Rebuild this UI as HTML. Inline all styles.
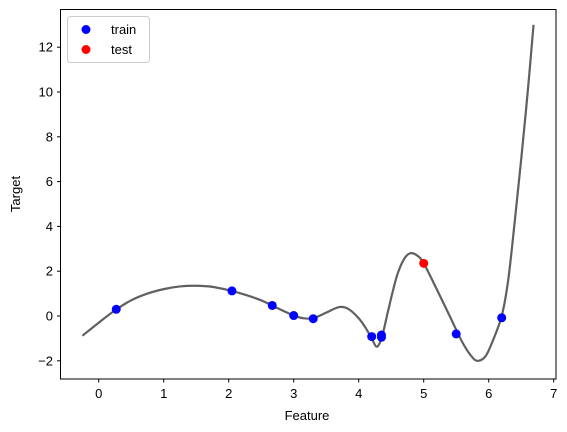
<!DOCTYPE html>
<html><head><meta charset="utf-8"><style>
body{margin:0;background:#fff}
svg{display:block;font-family:"Liberation Sans","DejaVu Sans",sans-serif}
</style></head><body>
<svg id="chart" width="567" height="432">
<rect x="0" y="0" width="567" height="432" fill="#fff"/>
<g id="axes"></g>
<g id="curve"></g>
<g id="points"></g>
<rect x="60.5" y="9.5" width="495.5" height="369.5" fill="none" stroke="#000" stroke-width="1"/>
<text x="307" y="420" font-size="13" text-anchor="middle">Feature</text>
<text x="0" y="0" font-size="13" text-anchor="middle" transform="translate(20,194) rotate(-90)">Target</text>
<g>
<rect x="67.5" y="16.5" width="82" height="46" rx="3" fill="#fff" stroke="#ccc"/>
<circle cx="86" cy="29.5" r="4.5" fill="#0000ff"/>
<text x="111" y="34" font-size="13">train</text>
<circle cx="86" cy="49.5" r="4.5" fill="#ff0000"/>
<text x="111" y="54" font-size="13">test</text>
</g>
</svg>
<script>
const xTicks=[0,1,2,3,4,5,6,7];
const yTicks=[-2,0,2,4,6,8,10,12];
const curveX=[-0.25,0,0.25,0.5,0.75,1,1.25,1.5,1.75,2,2.25,2.5,2.75,3,3.15,3.3,3.5,3.7,3.85,4,4.1,4.2,4.28,4.36,4.45,4.52,4.6,4.7,4.79,4.9,5.0,5.2,5.4,5.6,5.75,5.84,5.95,6.05,6.2,6.3,6.4,6.5,6.6,6.69];
const curveY=[-0.88,-0.3,0.25,0.7,1.0,1.2,1.32,1.35,1.3,1.15,0.95,0.7,0.35,0.02,-0.1,-0.1,0.15,0.4,0.3,-0.1,-0.5,-1.0,-1.37,-0.9,0.2,1.05,1.9,2.55,2.8,2.7,2.35,1.2,0.0,-1.2,-1.85,-2.0,-1.8,-1.2,0.0,1.6,4.2,7.0,10.0,13.0];
const trainX=[0.27,2.05,2.67,3.0,3.3,4.2,4.35,4.35,5.5,6.2];
const trainY=[0.3,1.12,0.47,0.02,-0.12,-0.92,-0.85,-0.95,-0.8,-0.08];
const testX=[5.0];
const testY=[2.35];
const NS='http://www.w3.org/2000/svg';
function sx(v){return 98.7+v*65;}
function sy(v){return 316-v*22.4;}
const axes=document.getElementById('axes');
xTicks.forEach(t=>{
  const l=document.createElementNS(NS,'line');
  l.setAttribute('x1',sx(t));l.setAttribute('x2',sx(t));l.setAttribute('y1',379);l.setAttribute('y2',382.5);l.setAttribute('stroke','#000');
  
  
  axes.appendChild(l);
  const tx=document.createElementNS(NS,'text');
  tx.setAttribute('x',sx(t));tx.setAttribute('y',398);tx.setAttribute('font-size','13');tx.setAttribute('text-anchor','middle');
  tx.textContent=t;
  
  
  axes.appendChild(tx);
});
yTicks.forEach(t=>{
  const l=document.createElementNS(NS,'line');
  l.setAttribute('x1',57);l.setAttribute('x2',60.5);l.setAttribute('y1',sy(t));l.setAttribute('y2',sy(t));l.setAttribute('stroke','#000');
  
  
  axes.appendChild(l);
  const tx=document.createElementNS(NS,'text');
  tx.setAttribute('x',53);tx.setAttribute('y',sy(t)+4.5);tx.setAttribute('font-size','13');tx.setAttribute('text-anchor','end');
  tx.textContent=t<0?'\u2212'+(-t):t;
  
  
  axes.appendChild(tx);
});
const P=curveX.map((x,i)=>[sx(x),sy(curveY[i])]);
let d='M'+P[0][0]+','+P[0][1];
for(let i=0;i<P.length-1;i++){
  const p0=P[Math.max(0,i-1)],p1=P[i],p2=P[i+1],p3=P[Math.min(P.length-1,i+2)];
  const c1=[p1[0]+(p2[0]-p0[0])/6,p1[1]+(p2[1]-p0[1])/6];
  const c2=[p2[0]-(p3[0]-p1[0])/6,p2[1]-(p3[1]-p1[1])/6];
  d+=' C'+c1[0]+','+c1[1]+' '+c2[0]+','+c2[1]+' '+p2[0]+','+p2[1];
}
const path=document.createElementNS(NS,'path');
path.setAttribute('d',d);path.setAttribute('fill','none');path.setAttribute('stroke','#606060');path.setAttribute('stroke-width','2.2');


document.getElementById('curve').appendChild(path);
const pts=document.getElementById('points');
trainX.forEach((x,i)=>{
  const c=document.createElementNS(NS,'circle');
  c.setAttribute('cx',sx(x));c.setAttribute('cy',sy(trainY[i]));c.setAttribute('r',4.5);c.setAttribute('fill','#0000ff');
  
  
  pts.appendChild(c);
});
testX.forEach((x,i)=>{
  const c=document.createElementNS(NS,'circle');
  c.setAttribute('cx',sx(x));c.setAttribute('cy',sy(testY[i]));c.setAttribute('r',4.5);c.setAttribute('fill','#ff0000');
  
  
  pts.appendChild(c);
});
</script>
</body></html>
